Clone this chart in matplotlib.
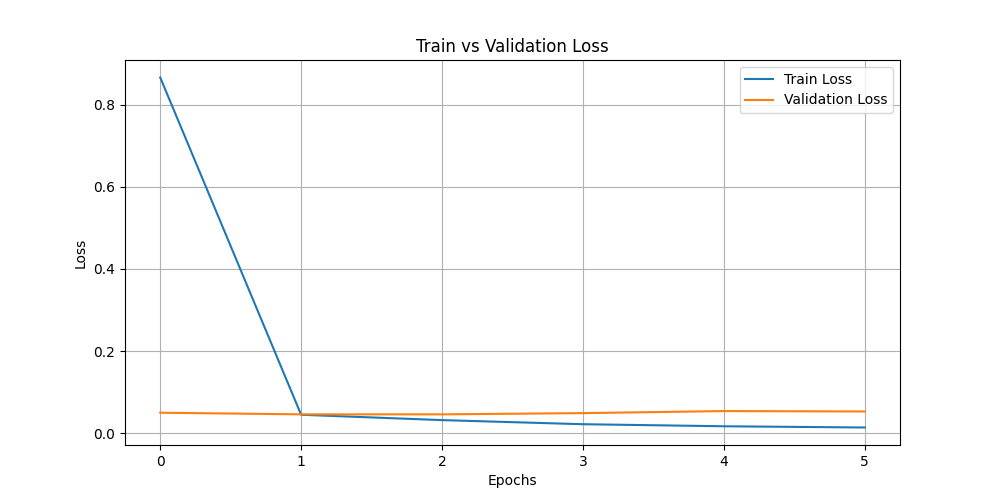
import matplotlib
matplotlib.use("Agg")
import matplotlib.pyplot as plt

epochs = [0, 1, 2, 3, 4, 5]
train_loss = [0.866, 0.045, 0.032, 0.022, 0.017, 0.014]
val_loss = [0.050, 0.046, 0.046, 0.049, 0.054, 0.053]

plt.figure(figsize=(10, 5), dpi=100)
plt.plot(epochs, train_loss, label='Train Loss')
plt.plot(epochs, val_loss, label='Validation Loss')
plt.title('Train vs Validation Loss')
plt.xlabel('Epochs')
plt.ylabel('Loss')
plt.legend()
plt.grid(True)
plt.savefig('out.png')
